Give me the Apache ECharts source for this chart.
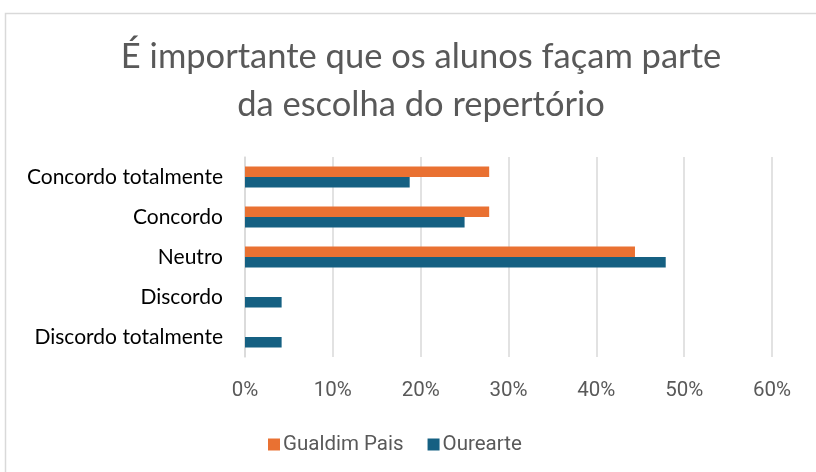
<!DOCTYPE html>
<html>
<head>
<meta charset="utf-8">
<script src="https://cdn.jsdelivr.net/npm/echarts@6/dist/echarts.min.js"></script>
<style>
  html, body { margin: 0; padding: 0; background: #fff; }
  #chart { width: 816px; height: 472px; }
</style>
</head>
<body>
<div id="chart"></div>
<script>
// respostas (de cima para baixo)
var categorias = ['Concordo totalmente', 'Concordo', 'Neutro', 'Discordo', 'Discordo totalmente'];
var gualdimPais = [27.8, 27.8, 44.4, 0, 0];
var ourearte = [18.75, 25.0, 47.9, 4.17, 4.17];
var ticksX = [0, 10, 20, 30, 40, 50, 60];

var chart = echarts.init(document.getElementById('chart'));

var option = {
    animation: false,
    title: {
        text: 'É importante que os alunos façam parte\nda escolha do repertório',
        left: 416,
        textAlign: 'center',
        top: 28,
        textStyle: {
            fontFamily: 'Lato',
            fontWeight: 'normal',
            fontSize: 34.5,
            lineHeight: 48,
            color: '#595959'
        }
    },
    graphic: [{
        type: 'rect',
        shape: { x: 5.5, y: 13.5, width: 840, height: 500 },
        style: { fill: 'none', stroke: '#d9d9d9', lineWidth: 1.5 },
        silent: true
    }],
    legend: {
        data: ['Gualdim Pais', 'Ourearte'],
        left: 263,
        top: 429,
        itemWidth: 12,
        itemHeight: 12,
        itemGap: 24,
        icon: 'rect',
        textStyle: { fontFamily: 'Roboto', fontSize: 20.5, color: '#595959', padding: [0, 0, 0, -2] }
    },
    grid: { left: 245, right: 44, top: 157, bottom: 115 },
    xAxis: {
        type: 'value',
        min: ticksX[0],
        max: ticksX[ticksX.length - 1],
        interval: 10,
        axisLine: { show: false },
        axisTick: { show: false },
        splitLine: { lineStyle: { color: '#d9d9d9', width: 1.5 } },
        axisLabel: {
            formatter: function (v) { return v + '%'; },
            fontFamily: 'Roboto',
            fontSize: 20.5,
            color: '#595959',
            margin: 23
        }
    },
    yAxis: {
        type: 'category',
        inverse: true,
        data: categorias,
        axisLine: { lineStyle: { color: '#d9d9d9', width: 1.5 } },
        axisTick: { show: false },
        axisLabel: {
            fontFamily: 'Lato',
            fontSize: 21,
            color: '#000000',
            margin: 22
        }
    },
    series: [
        {
            name: 'Gualdim Pais',
            type: 'bar',
            data: gualdimPais,
            barGap: '0%',
            barCategoryGap: '47%',
            itemStyle: { color: '#E97132' }
        },
        {
            name: 'Ourearte',
            type: 'bar',
            data: ourearte,
            barGap: '0%',
            barCategoryGap: '47%',
            itemStyle: { color: '#156082' }
        }
    ]
};
chart.setOption(option);
</script>
</body>
</html>
